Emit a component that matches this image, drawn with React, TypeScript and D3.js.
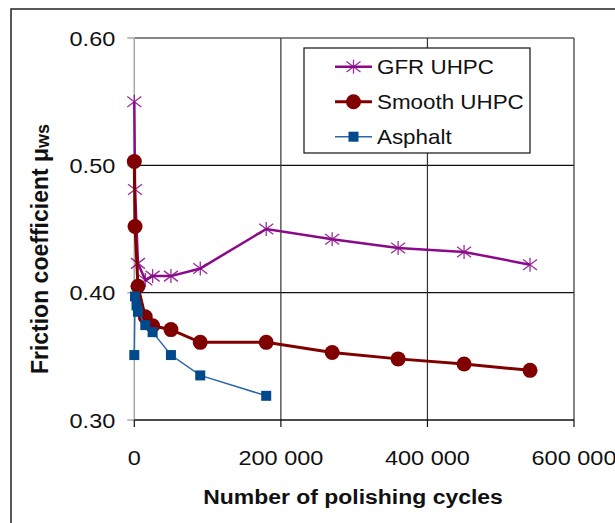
import React from "react";
import * as d3 from "d3";

const cyclesMain = [0, 1000, 5000, 15000, 25000, 50000, 90000, 180000, 270000, 360000, 450000, 540000];
const gfrUhpc = [0.550, 0.481, 0.423, 0.410, 0.413, 0.413, 0.419, 0.450, 0.442, 0.435, 0.432, 0.422];
const smoothUhpc = [0.503, 0.452, 0.405, 0.381, 0.374, 0.371, 0.361, 0.361, 0.353, 0.348, 0.344, 0.339];
const cyclesAsphalt = [0, 1000, 3000, 5000, 15000, 25000, 50000, 90000, 180000];
const asphalt = [0.351, 0.397, 0.390, 0.385, 0.3745, 0.369, 0.351, 0.335, 0.319];

const xTicks = [0, 200000, 400000, 600000];
const yTicks = [0.3, 0.4, 0.5, 0.6];
const seriesNames = ["GFR UHPC", "Smooth UHPC", "Asphalt"];

const FONT = "'Liberation Sans', Arial, sans-serif";
const SX = 1.12;

const purple = "#8a0a8a";
const red = "#800000";
const blue = "#004a8c";
const blueLine = "#2a66a8";

function Star({ x, y, color }: { x: number; y: number; color: string }) {
  const w = 7, h = 7;
  return (
    <g stroke={color} strokeWidth={1.3} opacity={0.85}>
      <line x1={x} y1={y - h} x2={x} y2={y + h} />
      <line x1={x - w} y1={y - h * 0.75} x2={x + w} y2={y + h * 0.75} />
      <line x1={x - w} y1={y + h * 0.75} x2={x + w} y2={y - h * 0.75} />
    </g>
  );
}

function fmt(v: number) {
  if (v === 0) return "0";
  return d3.format(",")(v).replace(/,/g, " ");
}

export default function App() {
  const W = 615, H = 523;
  const x = d3.scaleLinear().domain([0, 600000]).range([134.3, 574]);
  const y = d3.scaleLinear().domain([0.3, 0.6]).range([420, 38]);

  const gfrPts = cyclesMain.map((c, i) => [x(c), y(gfrUhpc[i])] as [number, number]);
  const smPts = cyclesMain.map((c, i) => [x(c), y(smoothUhpc[i])] as [number, number]);
  const asPts = cyclesAsphalt.map((c, i) => [x(c), y(asphalt[i])] as [number, number]);
  const line = d3.line();

  const legX = 304, legY = 48, legW = 226, legH = 105;
  const rows = [66.7, 101.7, 136.7];

  return (
    <svg width={W} height={H} style={{ position: "absolute", left: 0, top: 0, background: "#fff" }}>
      <rect x={0} y={0} width={W} height={H} fill="#fff" />
      {/* outer frame */}
      <rect x={11} y={9} width={W + 10} height={H + 10} fill="none" stroke="#222" strokeWidth={1.5} />

      {/* horizontal gridlines */}
      {yTicks.filter((t) => t > 0.3).map((t) => (
        <line key={"hg" + t} x1={x(0)} x2={x(600000)} y1={y(t)} y2={y(t)} stroke="#111" strokeWidth={1.2} />
      ))}
      {/* vertical gridlines */}
      {xTicks.filter((t) => t > 0).map((t) => (
        <line key={"vg" + t} x1={x(t)} x2={x(t)} y1={y(0.6)} y2={y(0.3)} stroke="#333" strokeWidth={1.2} />
      ))}

      {/* y axis (gray) */}
      <line x1={x(0)} x2={x(0)} y1={y(0.6)} y2={y(0.3)} stroke="#a8a8a8" strokeWidth={1.5} />
      {yTicks.map((t) => (
        <line key={"yt" + t} x1={x(0) - 7} x2={x(0)} y1={y(t)} y2={y(t)} stroke="#a8a8a8" strokeWidth={1.5} />
      ))}
      {/* x axis */}
      <line x1={x(0)} x2={x(600000)} y1={y(0.3)} y2={y(0.3)} stroke="#111" strokeWidth={1.5} />
      {xTicks.map((t) => (
        <line key={"xt" + t} x1={x(t)} x2={x(t)} y1={y(0.3)} y2={y(0.3) + 7} stroke="#111" strokeWidth={1.2} />
      ))}

      {/* tick labels */}
      {yTicks.map((t) => (
        <text key={"yl" + t} transform={`translate(${x(0) - 19},${y(t) + 7.5}) scale(${SX},1)`} textAnchor="end"
          fontFamily={FONT} fontSize={21} fill="#111">{t.toFixed(2)}</text>
      ))}
      {xTicks.map((t) => (
        <text key={"xl" + t} transform={`translate(${x(t)},${y(0.3) + 45}) scale(${SX},1)`} textAnchor="middle"
          fontFamily={FONT} fontSize={21} fill="#111">{fmt(t)}</text>
      ))}

      {/* axis titles */}
      <text transform={`translate(353,504) scale(${SX},1)`} textAnchor="middle" fontFamily={FONT}
        fontSize={20.5} fontWeight="bold" fill="#111">Number of polishing cycles</text>
      <text transform={`translate(47.5,249) rotate(-90)`} textAnchor="middle" fontFamily={FONT}
        fontSize={23} fontWeight="bold" fill="#111">
        Friction coefficient μ<tspan fontSize={18} dy={1.5}>ws</tspan>
      </text>

      {/* series: GFR */}
      <path d={line(gfrPts) || ""} fill="none" stroke={purple} strokeWidth={2.5} />
      {gfrPts.map((p, i) => <Star key={"s" + i} x={p[0]} y={p[1]} color={purple} />)}

      {/* series: Smooth */}
      <path d={line(smPts) || ""} fill="none" stroke={red} strokeWidth={3} />
      {smPts.map((p, i) => <circle key={"c" + i} cx={p[0]} cy={p[1]} r={7.5} fill={red} />)}

      {/* series: Asphalt */}
      <path d={line(asPts) || ""} fill="none" stroke={blueLine} strokeWidth={1.5} />
      {asPts.map((p, i) => <rect key={"r" + i} x={p[0] - 5} y={p[1] - 5} width={10} height={10} fill={blue} />)}

      {/* legend */}
      <rect x={legX} y={legY} width={legW} height={legH} fill="#fff" stroke="#111" strokeWidth={1.2} />
      {seriesNames.map((name, i) => {
        const ly = rows[i];
        const color = i === 0 ? purple : i === 1 ? red : blueLine;
        const sw = i === 0 ? 2.5 : i === 1 ? 3 : 1.5;
        return (
          <g key={name}>
            <line x1={335} x2={372} y1={ly} y2={ly} stroke={color} strokeWidth={sw} />
            {i === 0 && <Star x={353.5} y={ly} color={purple} />}
            {i === 1 && <circle cx={353.5} cy={ly} r={7.5} fill={red} />}
            {i === 2 && <rect x={348.5} y={ly - 5} width={10} height={10} fill={blue} />}
            <text transform={`translate(377,${ly + 7}) scale(${SX},1)`} fontFamily={FONT} fontSize={20} fill="#111">{name}</text>
          </g>
        );
      })}
    </svg>
  );
}
